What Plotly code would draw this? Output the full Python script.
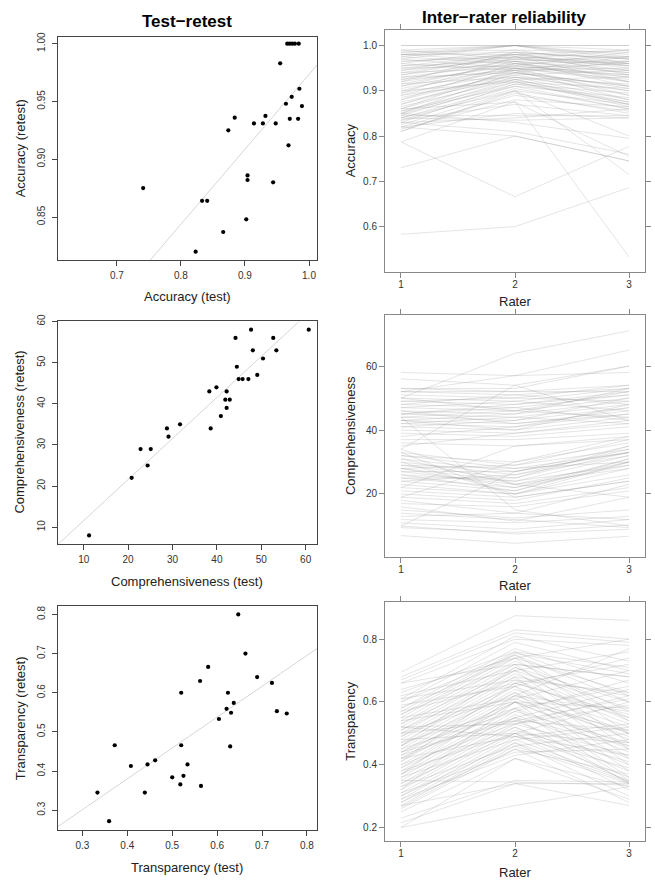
import plotly.graph_objects as go

# ---------------- Test-retest data ----------------
acc_test = [0.741, 0.823, 0.833, 0.841, 0.866, 0.874, 0.884, 0.902, 0.904, 0.904, 0.914, 0.928, 0.932, 0.944,
            0.948, 0.955, 0.964, 0.968, 0.970, 0.973, 0.983, 0.985, 0.989, 0.966, 0.970, 0.974, 0.978, 0.984]
acc_retest = [0.875, 0.820, 0.864, 0.864, 0.837, 0.925, 0.936, 0.848, 0.886, 0.882, 0.931, 0.931, 0.9375, 0.880,
              0.931, 0.983, 0.948, 0.912, 0.935, 0.954, 0.935, 0.961, 0.946, 1.0, 1.0, 1.0, 1.0, 1.0]
comp_test = [11.2, 20.8, 22.8, 24.4, 25.1, 28.75, 29.1, 31.7, 38.3, 38.6, 39.9, 40.9, 44.2, 42.2, 41.9, 42.9,
             42.2, 44.5, 44.9, 45.8, 47.1, 47.7, 48.1, 49.1, 50.4, 52.7, 53.4, 60.7]
comp_retest = [8, 22, 29, 25, 29, 34, 32, 35, 43, 34, 44, 37, 56, 43, 41, 41, 39, 49, 46, 46, 46, 58, 53, 47,
               51, 56, 53, 58]
tra_test = [0.3335, 0.3595, 0.372, 0.408, 0.445, 0.439, 0.462, 0.500, 0.518, 0.520, 0.520, 0.525, 0.534, 0.564,
            0.562, 0.580, 0.604, 0.621, 0.624, 0.629, 0.631, 0.637, 0.647, 0.663, 0.689, 0.722, 0.733, 0.755]
tra_retest = [0.345, 0.272, 0.466, 0.413, 0.417, 0.345, 0.4275, 0.384, 0.366, 0.600, 0.466, 0.388, 0.417, 0.362,
              0.630, 0.666, 0.533, 0.559, 0.600, 0.463, 0.549, 0.574, 0.800, 0.700, 0.640, 0.625, 0.553, 0.547]

# fitted lines (intercept, slope)
acc_fit = [0.3254, 0.648]
comp_fit = [1.65, 0.997]
tra_fit = [0.065, 0.788]

# ---------------- Inter-rater data ----------------
raters = [1, 2, 3]
acc_r1 = [1.00, 0.99, 0.98, 1.00, 0.975, 0.985, 0.97, 0.96, 0.98, 0.965, 0.955, 0.95, 0.945, 0.94, 0.935, 0.93,
          0.925, 0.92, 0.915, 0.91, 0.905, 0.90, 0.895, 0.89, 0.885, 0.88, 0.875, 0.87, 0.865, 0.86, 0.855, 0.85,
          0.848, 0.845, 0.84, 0.835, 0.83, 0.825, 0.82, 0.815, 0.81, 0.97, 0.975, 0.98, 0.965, 0.96, 0.955, 0.95,
          0.945, 0.94, 0.935, 0.93, 0.925, 0.92, 0.915, 0.91, 0.90, 0.895, 0.89, 0.88, 0.87, 0.86, 0.855, 0.85,
          0.845, 0.84, 0.835, 0.83, 0.82, 0.985, 0.99, 0.98, 0.583, 0.787, 0.730, 0.787, 0.81, 0.83, 0.82, 0.85,
          0.86, 0.84]
acc_r2 = [1.00, 1.00, 1.00, 1.00, 1.00, 1.00, 1.00, 0.99, 0.985, 0.98, 0.98, 0.975, 0.97, 0.975, 0.965, 0.96,
          0.97, 0.955, 0.96, 0.95, 0.945, 0.955, 0.94, 0.95, 0.935, 0.94, 0.93, 0.935, 0.925, 0.93, 0.92, 0.925,
          0.915, 0.92, 0.91, 0.905, 0.915, 0.90, 0.89, 0.88, 0.895, 0.95, 0.96, 0.965, 0.975, 0.945, 0.965, 0.955,
          0.985, 0.95, 0.98, 0.94, 0.945, 0.985, 0.93, 0.965, 0.92, 0.975, 0.925, 0.96, 0.945, 0.95, 0.91, 0.94,
          0.845, 0.835, 0.87, 0.84, 0.85, 0.99, 0.97, 0.98, 0.600, 0.666, 0.800, 0.876, 0.90, 0.81, 0.80, 0.83,
          0.875, 0.90]
acc_r3 = [1.00, 0.98, 1.00, 0.97, 0.99, 0.96, 0.975, 0.985, 0.97, 0.95, 0.99, 0.965, 0.96, 0.945, 0.975, 0.94,
          0.955, 0.93, 0.965, 0.92, 0.95, 0.935, 0.91, 0.925, 0.945, 0.90, 0.915, 0.89, 0.93, 0.88, 0.905, 0.87,
          0.895, 0.865, 0.885, 0.86, 0.875, 0.87, 0.855, 0.865, 0.85, 0.96, 0.93, 0.945, 0.92, 0.975, 0.91, 0.985,
          0.935, 0.89, 0.955, 0.965, 0.88, 0.97, 0.90, 0.94, 0.87, 0.96, 0.875, 0.92, 0.905, 0.935, 0.86, 0.91,
          0.845, 0.84, 0.845, 0.86, 0.84, 0.955, 0.99, 0.975, 0.686, 0.777, 0.745, 0.533, 0.715, 0.76, 0.745, 0.795,
          0.755, 0.80]

comp_r1 = [7, 10, 9.5, 11, 12, 14, 15, 16, 13, 17, 18, 19, 20, 21, 22, 23, 24, 25, 26, 27,
           28, 29, 30, 31, 32, 33, 26, 28, 30, 31, 27, 25, 29, 32, 24, 33, 28, 40, 41, 42,
           43, 44, 45, 46, 47, 48, 49, 50, 51, 52, 53, 42, 44, 43, 45, 41, 46, 39, 38, 37,
           36, 35, 47, 49, 50, 48, 52, 45, 43, 50, 52, 56, 58, 53, 34, 10, 44, 19, 34, 22]
comp_r2 = [4.6, 7.5, 8, 9, 11, 12, 12.5, 11.5, 14, 16, 14, 17, 18, 19, 20, 20, 21, 22, 21, 23,
           24, 25, 26, 27, 28, 29, 24, 22, 20, 23, 27, 25, 28, 30, 26, 19, 29, 39, 40, 41,
           42, 43, 44, 45, 46, 47, 48, 49, 50, 51, 52, 44, 46, 40, 47, 43, 42, 38, 41, 37,
           35, 39, 49, 50, 46, 51, 52, 48, 45, 64, 57, 54, 57, 53, 54, 27, 15, 30, 23, 35]
comp_r3 = [6.8, 9, 10.3, 12, 13, 9.5, 15, 19, 12, 21, 23, 22, 25, 24, 26, 28, 30, 29, 31, 30,
           32, 33, 34, 35, 33, 34, 29, 31, 30, 28, 33, 35, 30, 36, 32, 24, 37, 43, 44, 45,
           46, 47, 48, 49, 50, 51, 52, 53, 54, 53, 52, 42, 44, 48, 43, 50, 45, 41, 47, 39,
           38, 42, 46, 49, 52, 48, 54, 51, 53, 71, 65, 60, 58, 60, 43, 33, 10, 38, 19, 37]

tra_r1 = [0.695, 0.68, 0.67, 0.66, 0.61, 0.60, 0.58, 0.57, 0.56, 0.55, 0.54, 0.53, 0.52, 0.51, 0.50, 0.49,
          0.48, 0.47, 0.46, 0.45, 0.44, 0.43, 0.42, 0.41, 0.40, 0.39, 0.38, 0.37, 0.36, 0.35, 0.34, 0.33,
          0.32, 0.31, 0.30, 0.29, 0.28, 0.27, 0.265, 0.26, 0.25, 0.2, 0.2, 0.215, 0.23, 0.27, 0.35, 0.52,
          0.50, 0.54, 0.44, 0.48, 0.42, 0.40, 0.38, 0.36, 0.33, 0.31, 0.29, 0.47, 0.45, 0.43, 0.55, 0.57,
          0.59, 0.62, 0.64, 0.66, 0.60, 0.58, 0.56, 0.53, 0.51, 0.49, 0.46, 0.44, 0.42, 0.39, 0.37, 0.34,
          0.30, 0.28, 0.50, 0.52, 0.61, 0.63, 0.46, 0.41, 0.37, 0.32]
tra_r2 = [0.875, 0.83, 0.82, 0.80, 0.81, 0.79, 0.77, 0.76, 0.755, 0.75, 0.74, 0.73, 0.72, 0.71, 0.70, 0.69,
          0.68, 0.67, 0.66, 0.65, 0.64, 0.63, 0.62, 0.61, 0.60, 0.60, 0.58, 0.57, 0.56, 0.55, 0.54, 0.53,
          0.52, 0.51, 0.50, 0.49, 0.48, 0.47, 0.46, 0.45, 0.42, 0.27, 0.42, 0.34, 0.35, 0.34, 0.345, 0.53,
          0.62, 0.60, 0.54, 0.50, 0.49, 0.53, 0.50, 0.48, 0.46, 0.44, 0.43, 0.58, 0.57, 0.55, 0.61, 0.66,
          0.65, 0.70, 0.74, 0.72, 0.75, 0.74, 0.72, 0.70, 0.68, 0.65, 0.63, 0.60, 0.58, 0.55, 0.52, 0.50,
          0.47, 0.45, 0.54, 0.49, 0.67, 0.76, 0.71, 0.66, 0.62, 0.60]
tra_r3 = [0.86, 0.80, 0.79, 0.78, 0.73, 0.70, 0.66, 0.62, 0.69, 0.60, 0.63, 0.57, 0.68, 0.55, 0.58, 0.54,
          0.62, 0.53, 0.56, 0.50, 0.52, 0.48, 0.57, 0.49, 0.45, 0.51, 0.44, 0.47, 0.42, 0.46, 0.40, 0.43,
          0.38, 0.41, 0.36, 0.39, 0.35, 0.345, 0.34, 0.37, 0.33, 0.33, 0.29, 0.27, 0.345, 0.34, 0.335, 0.62,
          0.77, 0.58, 0.61, 0.47, 0.53, 0.59, 0.60, 0.52, 0.50, 0.45, 0.48, 0.65, 0.67, 0.64, 0.70, 0.72,
          0.74, 0.76, 0.80, 0.68, 0.54, 0.50, 0.47, 0.45, 0.42, 0.40, 0.38, 0.36, 0.35, 0.34, 0.345, 0.32,
          0.30, 0.28, 0.51, 0.43, 0.63, 0.71, 0.60, 0.55, 0.50, 0.46]

# ---------------- Figure ----------------
W, H = 655, 882
FONT = "Liberation Sans, Arial, Helvetica, sans-serif"


def px_x(p):
    return p / W


def px_y(p):
    return 1 - p / H


fig = go.Figure()

left_panels = [
    (acc_test, acc_retest, acc_fit, "x", "y", [0.608, 1.0125]),
    (comp_test, comp_retest, comp_fit, "x3", "y3", [4.2, 62.56]),
    (tra_test, tra_retest, tra_fit, "x5", "y5", [0.2457, 0.8223]),
]
for xs, ys, fit, xa, ya, xr in left_panels:
    fx = [xr[0], xr[1]]
    fy = [fit[0] + fit[1] * v for v in fx]
    fig.add_trace(go.Scatter(x=fx, y=fy, mode="lines", xaxis=xa, yaxis=ya,
                             line=dict(color="#d6d6d6", width=1), hoverinfo="skip"))
    fig.add_trace(go.Scatter(x=xs, y=ys, mode="markers", xaxis=xa, yaxis=ya,
                             marker=dict(color="black", size=4.2)))

right_panels = [
    (acc_r1, acc_r2, acc_r3, "x2", "y2"),
    (comp_r1, comp_r2, comp_r3, "x4", "y4"),
    (tra_r1, tra_r2, tra_r3, "x6", "y6"),
]
for r1, r2, r3, xa, ya in right_panels:
    for a, b, c in zip(r1, r2, r3):
        fig.add_trace(go.Scatter(x=raters, y=[a, b, c], mode="lines", xaxis=xa, yaxis=ya,
                                 line=dict(color="rgba(150,150,150,0.33)", width=0.75),
                                 hoverinfo="skip"))

tickfont = dict(family=FONT, size=10, color="#333")

lx = [px_x(58), px_x(317)]
rx = [px_x(385), px_x(645)]

left_box = "#444"
right_box = "#888"


def left_axes(n, ydom, xr, yr, xt, yt, xfmt, yfmt):
    xname = "xaxis" if n == 1 else f"xaxis{n}"
    yname = "yaxis" if n == 1 else f"yaxis{n}"
    anchor_x = "y" if n == 1 else f"y{n}"
    anchor_y = "x" if n == 1 else f"x{n}"
    fig.layout[xname] = dict(domain=lx, anchor=anchor_x, range=xr, tickvals=xt, tickformat=xfmt,
                             showline=True, mirror=True, linecolor=left_box, linewidth=1,
                             ticks="outside", ticklen=5, tickcolor=left_box, ticklabelstandoff=1,
                             showgrid=False, zeroline=False, tickfont=tickfont)
    fig.layout[yname] = dict(domain=ydom, anchor=anchor_y, range=yr, tickvals=yt, tickformat=yfmt,
                             showline=True, mirror=True, linecolor=left_box, linewidth=1,
                             ticks="outside", ticklen=5, tickcolor=left_box, tickangle=-90,
                             ticklabelstandoff=3,
                             showgrid=False, zeroline=False, tickfont=tickfont)


def right_axes(n, ydom, yr, yt, yfmt):
    xname = f"xaxis{n}"
    yname = f"yaxis{n}"
    fig.layout[xname] = dict(domain=rx, anchor=f"y{n}", range=[0.86, 3.14], tickvals=raters,
                             showline=True, mirror="ticks", linecolor=right_box, linewidth=1,
                             ticks="outside", ticklen=5, tickcolor=right_box, ticklabelstandoff=-2,
                             showgrid=False, zeroline=False, tickfont=tickfont)
    fig.layout[yname] = dict(domain=ydom, anchor=f"x{n}", range=yr, tickvals=yt, tickformat=yfmt,
                             showline=True, mirror="ticks", linecolor=right_box, linewidth=1,
                             ticks="outside", ticklen=5, tickcolor=right_box,
                             showgrid=False, zeroline=False, tickfont=tickfont)


left_axes(1, [px_y(255), px_y(30)], [0.608, 1.0125], [0.8128, 1.006],
          [0.7, 0.8, 0.9, 1.0], [0.85, 0.90, 0.95, 1.00], ".1f", ".2f")
left_axes(3, [px_y(541.7), px_y(317)], [4.2, 62.56], [5.82, 60],
          [10, 20, 30, 40, 50, 60], [10, 20, 30, 40, 50, 60], "d", "d")
left_axes(5, [px_y(830), px_y(604)], [0.2457, 0.8223], [0.2485, 0.821],
          [0.3, 0.4, 0.5, 0.6, 0.7, 0.8], [0.3, 0.4, 0.5, 0.6, 0.7, 0.8], ".1f", ".1f")

right_axes(2, [px_y(266.7), px_y(23.3)], [0.5006, 1.034], [0.6, 0.7, 0.8, 0.9, 1.0], ".1f")
right_axes(4, [px_y(554), px_y(310)], [0.43, 76.1], [20, 40, 60], "d")
right_axes(6, [px_y(840.7), px_y(599.3)], [0.157, 0.92], [0.2, 0.4, 0.6, 0.8], ".1f")

ann = []
titlefont = dict(family=FONT, size=17, color="black")
axfont = dict(family=FONT, size=13, color="#222")
ann.append(dict(text="<b>Test−retest</b>", x=px_x(187.5), y=px_y(15), font=titlefont))
ann.append(dict(text="<b>Inter−rater reliability</b>", x=px_x(504), y=px_y(11), font=titlefont))
for t, yy in [("Accuracy (test)", 292), ("Comprehensiveness (test)", 579), ("Transparency (test)", 867)]:
    ann.append(dict(text=t, x=px_x(187.5), y=px_y(yy), font=axfont))
for t, yy in [("Accuracy (retest)", 142.5), ("Comprehensiveness (retest)", 429), ("Transparency (retest)", 717)]:
    ann.append(dict(text=t, x=px_x(20), y=px_y(yy), font=axfont, textangle=-90))
for yy in [297, 583, 872]:
    ann.append(dict(text="Rater", x=px_x(515), y=px_y(yy), font=axfont))
for t, yy in [("Accuracy", 145), ("Comprehensiveness", 432), ("Transparency", 720)]:
    ann.append(dict(text=t, x=px_x(350.5), y=px_y(yy), font=axfont, textangle=-90))
for a in ann:
    a.update(xref="paper", yref="paper", showarrow=False, xanchor="center", yanchor="middle")

fig.update_layout(
    width=W, height=H,
    margin=dict(l=0, r=0, t=0, b=0),
    paper_bgcolor="white", plot_bgcolor="white",
    showlegend=False,
    annotations=ann,
    font=dict(family=FONT),
)

fig.write_html("out.html", config={"displayModeBar": False},
               post_script="document.body.style.margin='0';document.body.style.overflow='hidden';")
